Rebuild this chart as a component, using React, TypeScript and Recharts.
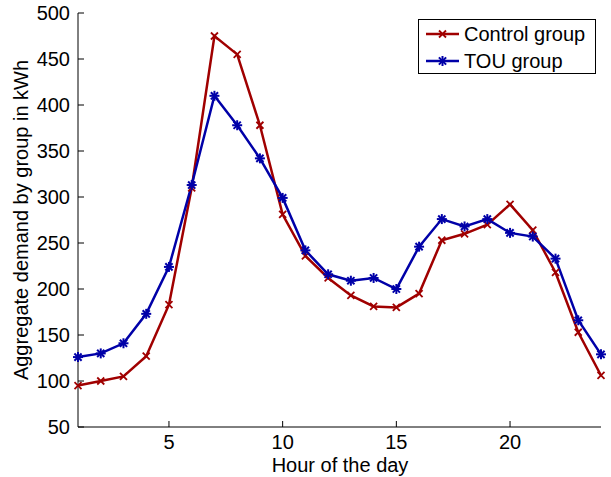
import React from 'react';
import { LineChart, Line, XAxis, YAxis } from 'recharts';

const hours = [1, 2, 3, 4, 5, 6, 7, 8, 9, 10, 11, 12, 13, 14, 15, 16, 17, 18, 19, 20, 21, 22, 23, 24];
const controlGroup = [95, 100, 105, 127, 183, 310, 475, 455, 378, 281, 236, 212, 193, 181, 180, 195, 253, 260, 270, 292, 264, 218, 153, 106];
const touGroup = [126, 130, 141, 173, 224, 313, 410, 378, 342, 299, 242, 216, 209, 212, 200, 246, 276, 268, 276, 261, 257, 233, 166, 129];
const xTicks = [5, 10, 15, 20];
const yTicks = [50, 100, 150, 200, 250, 300, 350, 400, 450, 500];

const RED = '#a00000';
const BLUE = '#0000a8';
const FONT = '"Liberation Sans", Arial, sans-serif';
const FS = 20;

const data = hours.map((h, i) => ({ hour: h, control: controlGroup[i], tou: touGroup[i] }));

// x marker for the control group
const CrossDot = (props: any) => {
  const { cx, cy } = props;
  if (cx == null || cy == null) return null;
  const s = 3.5;
  return (
    <g stroke={RED} strokeWidth={1.8}>
      <line x1={cx - s} y1={cy - s} x2={cx + s} y2={cy + s} />
      <line x1={cx - s} y1={cy + s} x2={cx + s} y2={cy - s} />
    </g>
  );
};

// asterisk marker for the TOU group
const StarDot = (props: any) => {
  const { cx, cy } = props;
  if (cx == null || cy == null) return null;
  const s = 5;
  const d = 3.6;
  return (
    <g stroke={BLUE} strokeWidth={2}>
      <line x1={cx - s} y1={cy} x2={cx + s} y2={cy} />
      <line x1={cx} y1={cy - s} x2={cx} y2={cy + s} />
      <line x1={cx - d} y1={cy - d} x2={cx + d} y2={cy + d} />
      <line x1={cx - d} y1={cy + d} x2={cx + d} y2={cy - d} />
    </g>
  );
};

// MATLAB style ticks point into the plot
const YTick = (props: any) => {
  const { x, y, payload } = props;
  return (
    <g>
      <line x1={x + 8} y1={y} x2={x + 14} y2={y} stroke="#000" strokeWidth={1} />
      <text x={x} y={y} dy={7} textAnchor="end" fontSize={FS} fontFamily={FONT} fill="#000">
        {payload.value}
      </text>
    </g>
  );
};

const XTick = (props: any) => {
  const { x, y, payload } = props;
  return (
    <g>
      <line x1={x} y1={y - 6} x2={x} y2={y - 12} stroke="#000" strokeWidth={1} />
      <text x={x} y={y} dy={16} textAnchor="middle" fontSize={FS} fontFamily={FONT} fill="#000">
        {payload.value}
      </text>
    </g>
  );
};

const LegendBox = () => (
  <div
    style={{
      position: 'absolute',
      left: 418,
      top: 19,
      width: 178,
      height: 55,
      border: '1px solid #000',
      background: '#fff',
      boxSizing: 'border-box',
    }}
  >
    <svg width={176} height={53} style={{ display: 'block' }}>
      <line x1={7} y1={14} x2={40} y2={14} stroke={RED} strokeWidth={2.5} />
      <CrossDot cx={23.5} cy={14} />
      <text x={45} y={21} fontSize={FS} fontFamily={FONT}>Control group</text>
      <line x1={7} y1={41} x2={40} y2={41} stroke={BLUE} strokeWidth={2.5} />
      <StarDot cx={23.5} cy={41} />
      <text x={45} y={48} fontSize={FS} fontFamily={FONT}>TOU group</text>
    </svg>
  </div>
);

export default function App() {
  return (
    <div style={{ position: 'absolute', left: 0, top: 0, width: 611, height: 477, background: '#fff' }}>
      <LineChart width={611} height={477} data={data} margin={{ top: 13, right: 10, bottom: 0, left: 0 }}>
        <XAxis
          dataKey="hour"
          type="number"
          domain={[1, 24]}
          ticks={xTicks}
          tickSize={0}
          tickMargin={6}
          tick={<XTick />}
          axisLine={{ stroke: '#000' }}
          tickLine={false}
          height={50}
        />
        <YAxis
          type="number"
          domain={[50, 500]}
          ticks={yTicks}
          width={78}
          tickSize={0}
          tickMargin={8}
          tick={<YTick />}
          axisLine={{ stroke: '#000' }}
          tickLine={false}
        />
        <text x={340} y={472} textAnchor="middle" fontSize={FS} fontFamily={FONT} fill="#000">
          Hour of the day
        </text>
        <text
          x={28}
          y={220}
          transform="rotate(-90 28 220)"
          textAnchor="middle"
          fontSize={FS}
          fontFamily={FONT}
          fill="#000"
        >
          Aggregate demand by group in kWh
        </text>
        <Line
          dataKey="control"
          stroke={RED}
          strokeWidth={2.5}
          dot={<CrossDot />}
          activeDot={false}
          isAnimationActive={false}
        />
        <Line
          dataKey="tou"
          stroke={BLUE}
          strokeWidth={2.5}
          dot={<StarDot />}
          activeDot={false}
          isAnimationActive={false}
        />
      </LineChart>
      <LegendBox />
    </div>
  );
}
